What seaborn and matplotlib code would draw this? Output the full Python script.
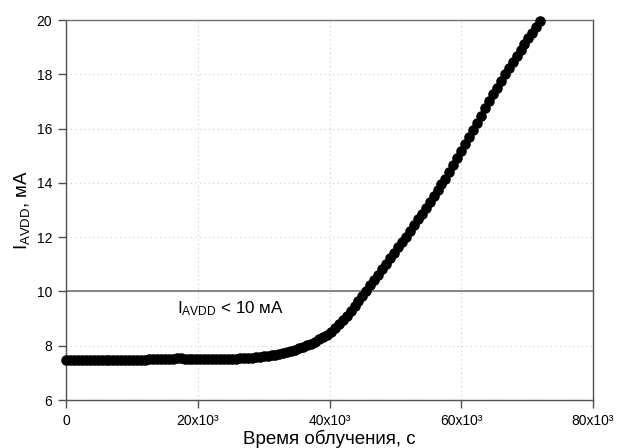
import numpy as np
import pandas as pd
import matplotlib
matplotlib.use('Agg')
import matplotlib.pyplot as plt
import seaborn as sns

# ---- data ----
time_s = list(range(0, 72001, 600))
current_mA = [
    7.48, 7.48, 7.48, 7.49, 7.49, 7.49, 7.49, 7.49, 7.49, 7.49,
    7.49, 7.49, 7.49, 7.49, 7.49, 7.49, 7.49, 7.49, 7.49, 7.49,
    7.49, 7.50, 7.50, 7.50, 7.50, 7.51, 7.52, 7.52, 7.53, 7.53,
    7.52, 7.52, 7.51, 7.51, 7.50, 7.50, 7.50, 7.50, 7.50, 7.51,
    7.51, 7.51, 7.52, 7.52, 7.53, 7.54, 7.55, 7.56, 7.57, 7.59,
    7.61, 7.63, 7.65, 7.67, 7.70, 7.73, 7.77, 7.81, 7.86, 7.91,
    7.96, 8.02, 8.08, 8.15, 8.23, 8.31, 8.40, 8.52, 8.66, 8.80,
    8.95, 9.11, 9.28, 9.45, 9.63, 9.82, 10.02, 10.22, 10.42, 10.62,
    10.82, 11.02, 11.22, 11.42, 11.62, 11.82, 12.02, 12.23, 12.44, 12.66,
    12.87, 13.09, 13.30, 13.52, 13.74, 13.96, 14.16, 14.41, 14.66, 14.92,
    15.18, 15.44, 15.70, 15.96, 16.22, 16.48, 16.74, 17.00, 17.26, 17.51,
    17.76, 18.00, 18.23, 18.46, 18.68, 18.90, 19.11, 19.32, 19.53, 19.74,
    19.95,
]
x_ticks = [0, 20000, 40000, 60000, 80000]
x_tick_labels = ['0', '20x10³', '40x10³', '60x10³', '80x10³']
y_ticks = [6, 8, 10, 12, 14, 16, 18, 20]
threshold_mA = 10
annotation_pos = (16900, 9.18)

x_label = 'Время облучения, с'
y_label = r'$\mathregular{I_{AVDD}}$, мА'
annotation_text = r'$\mathregular{I_{AVDD}}$ < 10 мА'

# ---- style ----
sns.set_theme(style='white')
plt.rcParams['font.family'] = ['Liberation Sans', 'DejaVu Sans']
plt.rcParams['mathtext.fontset'] = 'custom'
plt.rcParams['mathtext.rm'] = 'Liberation Sans'
plt.rcParams['mathtext.it'] = 'Liberation Sans:italic'
plt.rcParams['mathtext.bf'] = 'Liberation Sans:bold'

fig = plt.figure(figsize=(6.18, 4.48), dpi=100)
ax = fig.add_axes([66 / 618, 1 - 400 / 448, (593 - 66) / 618, 380 / 448])

df = pd.DataFrame({'t': time_s, 'i': current_mA})

ax.set_axisbelow(True)
ax.grid(True, color='#cccccc', linestyle=(0, (1, 3)), linewidth=0.8)
ax.axhline(threshold_mA, color='#707070', lw=1.2, zorder=1.5)

sns.scatterplot(data=df, x='t', y='i', ax=ax, color='black', s=58,
                edgecolor='black', linewidth=0, zorder=3, legend=False)
for c in ax.collections:
    c.set_clip_on(False)

ax.set_xlim(0, 80000)
ax.set_ylim(6, 20)
ax.set_xticks(x_ticks)
ax.set_xticklabels(x_tick_labels)
ax.set_yticks(y_ticks)

for side in ['left', 'bottom', 'top', 'right']:
    ax.spines[side].set_visible(True)
    ax.spines[side].set_linewidth(1.0)
    ax.spines[side].set_color('#505050')
ax.spines['top'].set_color('#707070')

ax.tick_params(axis='both', which='major', direction='out', length=6, width=1,
               color='#505050', labelsize=10, pad=4, labelcolor='black',
               bottom=True, left=True, top=False, right=False)

ax.set_xlabel(x_label, fontsize=13.5, labelpad=1, color='black')
ax.set_ylabel(y_label, fontsize=13.5, labelpad=3, color='black')

ax.text(annotation_pos[0], annotation_pos[1], annotation_text, fontsize=12.3,
        ha='left', va='baseline', color='black')

fig.savefig('out.png', dpi=100)
